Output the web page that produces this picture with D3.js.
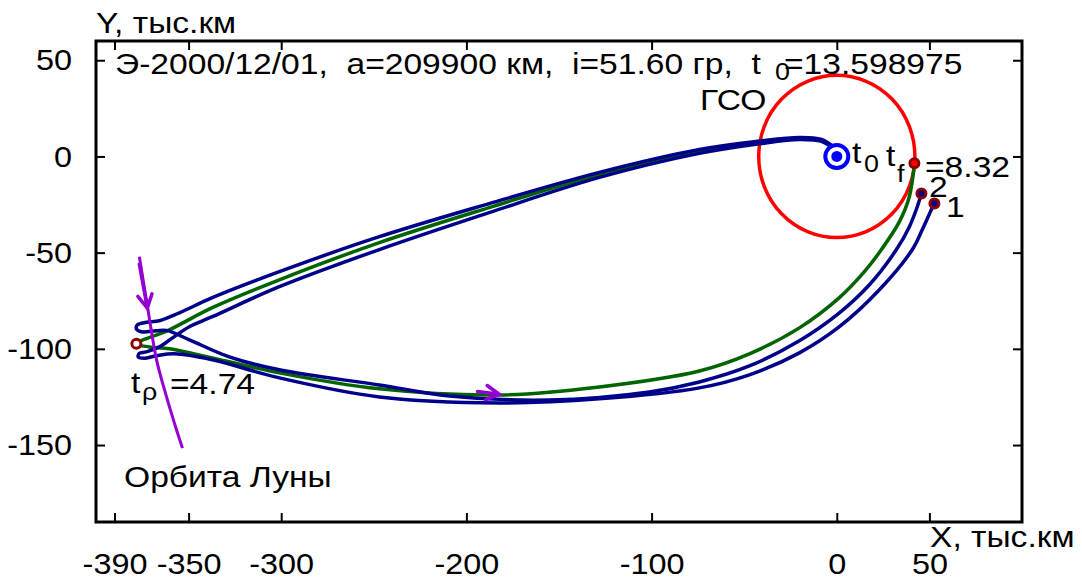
<!DOCTYPE html>
<html>
<head>
<meta charset="utf-8">
<script src="https://cdn.jsdelivr.net/npm/d3@7"></script>
<style>
  body { margin: 0; background: #fff; }
  text { font-family: "Liberation Sans", Arial, sans-serif; fill: #000; }
</style>
</head>
<body>
<svg id="chart" width="1082" height="584"></svg>
<script>
// axis ticks, thousand km
const xTicks = [-390, -350, -300, -200, -100, 0, 50];
const yTicks = [-150, -100, -50, 0, 50];

// geostationary orbit radius
const gsoRadius = 42.164;

// nominal trajectory (green)
const nominal = [[-1, 3.6], [-8.3, 8.3], [-20.2, 9.4], [-41.8, 7.3], [-74.2, 2.6], [-128.2, -9.4],
  [-187.7, -26.6], [-247, -44.8], [-301, -64.1], [-337.2, -78.6], [-360.4, -90.1], [-378.2, -97.4],
  [-371.2, -99], [-360.4, -100], [-337.2, -104.7], [-301, -112.5], [-247, -120.8], [-182.2, -124],
  [-128.2, -119.8], [-74.2, -111.5], [-47.2, -102.6], [-20.2, -89.1], [1.4, -73.4], [14.9, -59.9],
  [24.1, -48.4], [33.8, -33.9], [39.2, -20.8], [41.9, -3.6]];

// perturbed trajectory 2 (blue)
const traj2 = [[-0.8, 4.2], [-8.3, 8.85], [-20.2, 9.9], [-41.8, 8], [-74.2, 3.6], [-128.2, -8.3],
  [-187.7, -24.5], [-247, -41.7], [-301, -59.9], [-337.2, -73.4], [-355, -81.3], [-365.8, -85.4],
  [-372.8, -86.2], [-377.6, -87.5], [-378.2, -89.6], [-375.5, -91.1], [-367.4, -90.6], [-362, -90.4],
  [-349.6, -95.3], [-328, -104.2], [-301, -110.9], [-247, -118.8], [-209.2, -124.5], [-155.2, -126.6],
  [-101.2, -122.4], [-74.2, -117.2], [-47.2, -108.9], [-20.2, -95.8], [1.4, -81.3], [17.6, -66.7],
  [32.2, -48.4], [39.2, -36.5], [43.5, -26], [45.7, -19.3]];

// perturbed trajectory 1 (blue)
const traj1 = [[-0.8, 3.1], [-8.3, 7.8], [-20.2, 8.85], [-41.8, 6.6], [-74.2, 1.6], [-128.2, -10.9],
  [-187.7, -29.2], [-247, -48.4], [-301, -67.7], [-337.2, -83.3], [-349.6, -88.5], [-358.7, -94.3],
  [-365.8, -99], [-372.8, -101.6], [-376.6, -102.3], [-377.2, -104.2], [-373.9, -104.9], [-367.4, -103.6],
  [-357.6, -102.6], [-337.2, -105.7], [-301, -115.1], [-247, -125], [-182.2, -128.1], [-128.2, -126],
  [-74.2, -120.3], [-47.2, -113.5], [-20.2, -102.1], [1.4, -88.5], [23, -69.3], [40.8, -48.4],
  [46.2, -38], [51.1, -27.6], [52.7, -24.5]];

// piece of the Moon orbit
const moonOrbit = [[-376.6, -52.1], [-372.2, -78.1], [-367.3, -105.7], [-361.9, -125], [-356.5, -142.2], [-353.3, -151.6]];

// direction arrows: x1, y1, x2, y2
const arrows = [[-376.6, -56, -372.3, -78.8], [-194, -122.2, -182.2, -123.6]];

const earthPoint = [0, 0];
const tfPoint = [41.9, -3.6];
const tpPoint = [-378.2, -97.4];
const endPoints = [[45.7, -19.3], [52.7, -24.5]];

const width = 1082, height = 584;
const margin = {left: 96, right: 60, top: 41, bottom: 62};
const textScale = 1.12, tickScale = 1.08;

const svg = d3.select("#chart");

const x = d3.scaleLinear().domain([-400, 100]).range([margin.left, width - margin.right]);
const y = d3.scaleLinear().domain([-190, 60]).range([height - margin.bottom, margin.top]);

// axes, gnuplot style: ticks inside, mirrored on top and right
svg.append("g")
    .attr("class", "xaxis")
    .attr("transform", `translate(0,${height - margin.bottom})`)
    .call(d3.axisBottom(x).tickValues(xTicks).tickSize(-9).tickSizeOuter(0).tickPadding(31).tickFormat(d => String(d)))
    .call(g => g.select(".domain").remove());
svg.append("g")
    .attr("transform", `translate(0,${margin.top})`)
    .call(d3.axisTop(x).tickValues(xTicks).tickSize(-9).tickSizeOuter(0).tickFormat(""))
    .call(g => g.select(".domain").remove());
svg.append("g")
    .attr("class", "yaxis")
    .attr("transform", `translate(${margin.left},0)`)
    .call(d3.axisLeft(y).tickValues(yTicks).tickSize(-9).tickSizeOuter(0).tickPadding(24).tickFormat(d => String(d)))
    .call(g => g.select(".domain").remove());
svg.append("g")
    .attr("transform", `translate(${width - margin.right},0)`)
    .call(d3.axisRight(y).tickValues(yTicks).tickSize(-9).tickSizeOuter(0).tickFormat(""))
    .call(g => g.select(".domain").remove());

svg.selectAll(".tick line").attr("stroke", "#000").attr("stroke-width", 2);
svg.selectAll(".tick text")
    .attr("font-size", 30)
    .attr("font-family", "Liberation Sans, Arial, sans-serif")
    .attr("fill", "#000");
svg.selectAll(".xaxis .tick text").attr("transform", `scale(${tickScale},1)`);
svg.selectAll(".yaxis .tick text").attr("transform", `translate(-24,0) scale(${tickScale},1) translate(24,0)`);

svg.append("rect")
    .attr("x", margin.left).attr("y", margin.top)
    .attr("width", width - margin.left - margin.right)
    .attr("height", height - margin.top - margin.bottom)
    .attr("fill", "none").attr("stroke", "#000").attr("stroke-width", 3);

// GSO circle
svg.append("ellipse")
    .attr("cx", x(0)).attr("cy", y(0))
    .attr("rx", x(gsoRadius) - x(0)).attr("ry", y(0) - y(gsoRadius))
    .attr("fill", "none").attr("stroke", "#ff0000").attr("stroke-width", 3.5);

const line = d3.line().x(d => x(d[0])).y(d => y(d[1])).curve(d3.curveCatmullRom.alpha(0.5));

svg.append("path").datum(nominal).attr("d", line)
    .attr("fill", "none").attr("stroke", "#006400").attr("stroke-width", 3.5);

[traj2, traj1].forEach(t => {
  svg.append("path").datum(t).attr("d", line)
      .attr("fill", "none").attr("stroke", "#00008b").attr("stroke-width", 3.5);
});

svg.append("path").datum(moonOrbit).attr("d", line)
    .attr("fill", "none").attr("stroke", "#9400d3").attr("stroke-width", 3);

// arrows with open heads
arrows.forEach(a => {
  const x1 = x(a[0]), y1 = y(a[1]), x2 = x(a[2]), y2 = y(a[3]);
  const ang = Math.atan2(y2 - y1, x2 - x1);
  const len = 15, spread = 0.5;
  const w1 = [x2 - len * Math.cos(ang - spread), y2 - len * Math.sin(ang - spread)];
  const w2 = [x2 - len * Math.cos(ang + spread), y2 - len * Math.sin(ang + spread)];
  svg.append("path")
      .attr("d", `M${x1},${y1}L${x2},${y2}M${w1}L${x2},${y2}L${w2}`)
      .attr("fill", "none").attr("stroke", "#9400d3").attr("stroke-width", 3.5)
      .attr("stroke-linecap", "round");
});

// start point marker
svg.append("circle").attr("cx", x(earthPoint[0])).attr("cy", y(earthPoint[1])).attr("r", 11.5)
    .attr("fill", "#fff").attr("stroke", "#0000ff").attr("stroke-width", 4);
svg.append("circle").attr("cx", x(earthPoint[0])).attr("cy", y(earthPoint[1])).attr("r", 5.5)
    .attr("fill", "#0000ff");

function ring(p, inner) {
  svg.append("circle").attr("cx", x(p[0])).attr("cy", y(p[1])).attr("r", 4.5)
      .attr("fill", inner).attr("stroke", "#8b0000").attr("stroke-width", 3);
}
ring(tfPoint, "#ff0000");
ring(tpPoint, "#fff");
endPoints.forEach(p => ring(p, "#00008b"));

// labels
function label(px, py, str, size) {
  return svg.append("text")
      .attr("transform", `translate(${px},${py}) scale(${textScale},1)`)
      .attr("font-size", size || 30).style("white-space", "pre").text(str);
}
label(96, 33, "Y, тыс.км");
label(930, 547, "X, тыс.км");
label(115, 74, "Э-2000/12/01,  a=209900 км,  i=51.60 гр,  t");
label(775, 80, "0", 24);
label(784, 74, "=13.598975");
label(700, 110, "ГСО");
label(852, 163, "t");
label(864, 172, "0", 24);
label(886, 166, "t");
label(897, 182, "f", 24);
label(925, 177, "=8.32");
label(929, 197, "2");
label(946, 217, "1");
label(131, 393, "t");
label(142, 400, "ρ", 24);
label(170, 394, "=4.74");
label(124, 487, "Орбита Луны");
</script>
</body>
</html>
